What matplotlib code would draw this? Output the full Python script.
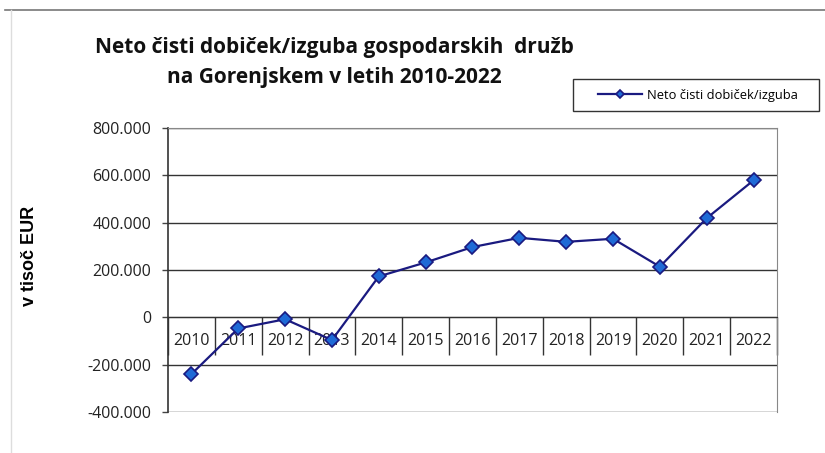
import matplotlib.pyplot as plt
import numpy as np
from matplotlib.lines import Line2D
from matplotlib.patches import Rectangle

years = ['2010', '2011', '2012', '2013', '2014', '2015', '2016',
         '2017', '2018', '2019', '2020', '2021', '2022']
profit = [-240000, -47000, -8000, -96000, 173000, 232000, 297000,
          336000, 319000, 332000, 214000, 419000, 579000]
yticks = [-400000, -200000, 0, 200000, 400000, 600000, 800000]
ytick_labels = ['-400.000', '-200.000', '0', '200.000', '400.000', '600.000', '800.000']

title = 'Neto čisti dobiček/izguba gospodarskih  družb\nna Gorenjskem v letih 2010-2022'
series_name = 'Neto čisti dobiček/izguba'

plt.rcParams['font.family'] = ['Open Sans', 'DejaVu Sans']

fig = plt.figure(figsize=(8.25, 4.53), dpi=100)
ax = fig.add_axes([0.2036, 0.0905, 0.7382, 0.6269])

x = np.arange(len(years))
ax.plot(x, profit, color='#1a1a80', lw=1.6, marker='D', markersize=7,
        markerfacecolor='#1f6ad6', markeredgecolor='#1a1a80', markeredgewidth=1.2,
        label=series_name, zorder=3)

ax.set_xlim(-0.5, len(years) - 0.5)
ax.set_ylim(-400000, 800000)
ax.set_yticks(yticks)
ax.set_yticklabels(ytick_labels, fontsize=11.5, color='#222222')
ax.tick_params(axis='y', length=4, width=1, color='#444444', pad=8)
ax.yaxis.grid(True, color='#333333', lw=1)
ax.set_axisbelow(True)

# category axis sits on the zero line, labels between separators
ax.spines['bottom'].set_position(('data', 0))
ax.spines['bottom'].set_color('#333333')
ax.set_xticks(np.arange(-0.5, len(years)), labels=[''] * (len(years) + 1))
ax.set_xticks(x, labels=years, minor=True)
ax.tick_params(axis='x', which='major', direction='out', length=27, width=1, color='#333333')
ax.tick_params(axis='x', which='minor', length=0, pad=11, labelsize=11.5, labelcolor='#222222')

ax.spines['left'].set_color('#333333')
ax.spines['top'].set_color('#888888')
ax.spines['right'].set_color('#888888')
ax.spines['left'].set_linewidth(1.2)

ax.set_ylabel('v tisoč EUR', family='Liberation Sans', fontweight='bold', fontsize=13)
ax.yaxis.set_label_coords(-0.213, 0.55)

fig.text(0.405, 0.862, title, ha='center', va='center', fontsize=15,
         fontweight='bold', linespacing=1.55, color='#111111')

# legend with a wide box like the original
leg = fig.legend(loc='center left', bbox_to_anchor=(0.7248, 0.790), fontsize=9.3,
                 frameon=False, handlelength=3.4, handletextpad=0.4,
                 markerscale=0.6, borderpad=0, borderaxespad=0)
fig.add_artist(Rectangle((0.6945, 0.755), 0.2982, 0.0706, transform=fig.transFigure,
                         fill=False, edgecolor='#333333', lw=1))

# frame lines around the chart region
fig.add_artist(Line2D([0.006, 1.0], [0.978, 0.978], color='#777777', lw=1.2))
fig.add_artist(Line2D([0.013, 0.013], [0.0, 0.978], color='#dddddd', lw=1))

fig.savefig('out.png', dpi=100)
